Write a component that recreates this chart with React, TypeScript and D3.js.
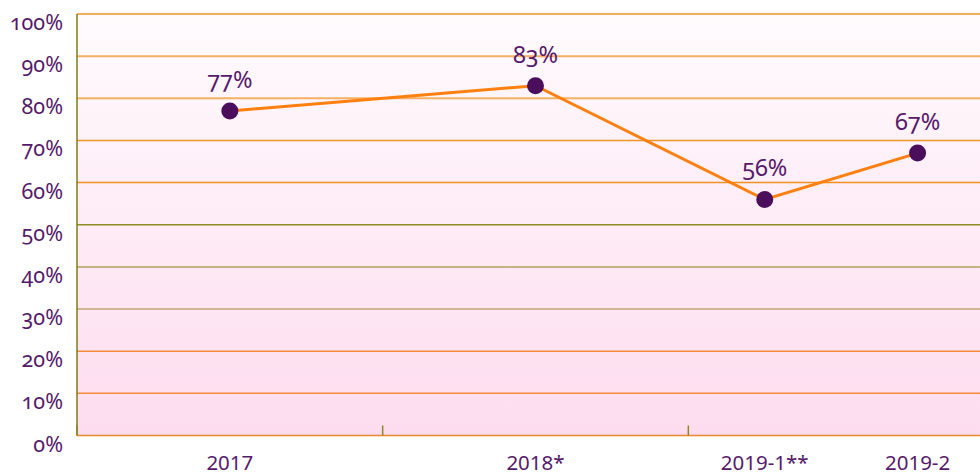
import { scaleBand, scaleLinear, line } from "d3";

// data
const groups = ["2017", "2018*", "2019"];
const periods = ["2017", "2018*", "2019-1**", "2019-2"];
const periodGroup = ["2017", "2018*", "2019", "2019"];
const values = [77, 83, 56, 67];
const yTicks = [0, 10, 20, 30, 40, 50, 60, 70, 80, 90, 100];

const WIDTH = 980;
const HEIGHT = 475;
const M = { top: 14, left: 77, bottom: 39.5, right: -14 };

const PURPLE = "#561a6b";
const DOT = "#4a0e5c";
const ORANGE = "#ff7f0f";
// grid line colours, bottom to top
const gridColors = [
  "#f0862c",
  "#f3893a",
  "#f28c3c",
  "#c4a474",
  "#b3a25a",
  "#8c8c24",
  "#f39022",
  "#f49426",
  "#f6b066",
  "#f6b066",
  "#f5ad5e",
];

const App = () => {
  const x = scaleBand<string>()
    .domain(groups)
    .range([M.left, WIDTH - M.right])
    .paddingInner(0)
    .paddingOuter(0);

  const y = scaleLinear()
    .domain([0, 100])
    .range([HEIGHT - M.bottom, M.top]);

  // position of a period: centre of its slot inside its group
  const px = (i: number) => {
    const g = periodGroup[i];
    const members = periods.filter((_, j) => periodGroup[j] === g);
    const sub = scaleBand<string>()
      .domain(members)
      .range([x(g)!, x(g)! + x.bandwidth()]);
    return sub(periods[i])! + sub.bandwidth() / 2;
  };

  const pts = values.map((v, i) => [px(i), y(v)] as [number, number]);
  const path = line()(pts);

  const x0 = M.left;
  const x1 = WIDTH - M.right;
  const y0 = y(0);

  return (
    <svg
      width={WIDTH}
      height={HEIGHT}
      style={{ position: "absolute", left: 0, top: 0 }}
    >
      <defs>
        <linearGradient id="bg" x1="0" y1="0" x2="0" y2="1">
          <stop offset="0%" stopColor="#fffbfd" />
          <stop offset="100%" stopColor="#fddcef" />
        </linearGradient>
      </defs>
      <rect x={x0} y={y(100)} width={x1 - x0} height={y0 - y(100)} fill="url(#bg)" />

      {yTicks.map((t, i) => (
        <g key={t}>
          <line
            x1={x0}
            x2={x1}
            y1={y(t)}
            y2={y(t)}
            stroke={gridColors[i]}
            strokeWidth={t >= 80 ? 2 : 1.5}
          />
          <text
            x={63}
            y={y(t) + 16}
            textAnchor="end"
            fill={PURPLE}
            fontFamily="'Noto Sans', sans-serif"
            fontSize={21.5}
            style={{ fontVariantNumeric: "oldstyle-nums" }}
          >
            {t}%
          </text>
        </g>
      ))}

      {/* y axis line */}
      <line x1={x0} x2={x0} y1={y(100)} y2={y0} stroke="#7c7c18" strokeWidth={1.5} />

      {/* category ticks between groups */}
      {groups.map((g) => (
        <line
          key={g}
          x1={x(g)!}
          x2={x(g)!}
          y1={y0}
          y2={y0 - 10}
          stroke="#8a8a24"
          strokeWidth={1.5}
        />
      ))}

      <path d={path!} fill="none" stroke={ORANGE} strokeWidth={3} />

      {pts.map(([cx, cy], i) => (
        <g key={periods[i]}>
          <circle cx={cx} cy={cy} r={8.5} fill={DOT} />
          <text
            x={cx}
            y={cy - 23}
            textAnchor="middle"
            fill={PURPLE}
            fontFamily="'Noto Sans', sans-serif"
            fontSize={23.5}
            style={{ fontVariantNumeric: "oldstyle-nums" }}
          >
            {values[i]}%
          </text>
          <text
            x={cx}
            y={470}
            textAnchor="middle"
            fill={PURPLE}
            fontFamily="'Noto Sans', sans-serif"
            fontSize={20.5}
          >
            {periods[i]}
          </text>
        </g>
      ))}
    </svg>
  );
};

export default App;
